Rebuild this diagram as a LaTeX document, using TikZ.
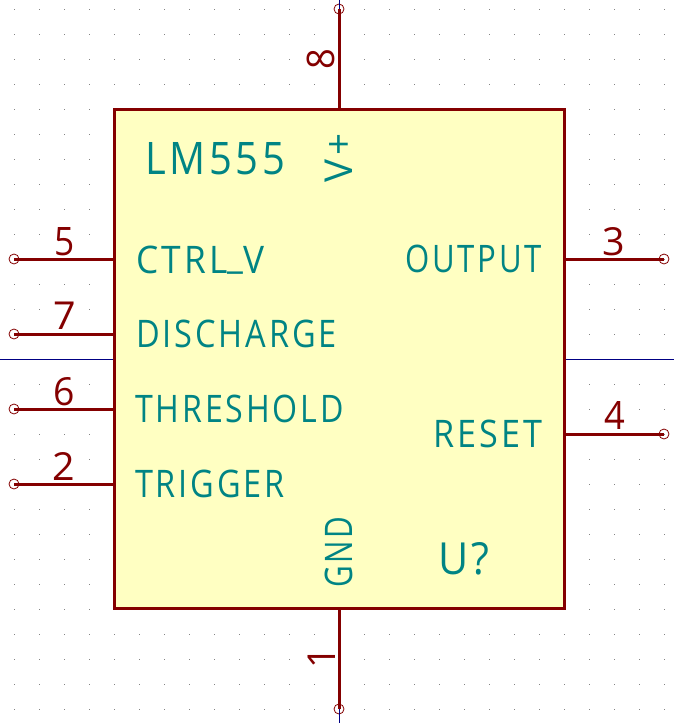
\documentclass[tikz,border=0pt]{standalone}
\usepackage{graphicx}
\usepackage{fontspec}
\setmainfont{Open Sans}[LetterSpace=9]
\definecolor{pinred}{HTML}{840000}
\definecolor{txtteal}{HTML}{008484}
\definecolor{bodyfill}{HTML}{FFFFC2}
\definecolor{axisblue}{HTML}{000084}
\definecolor{gridgrey}{HTML}{848484}
\newcommand{\fitx}[3]{\resizebox{#1pt}{#2pt}{#3\kern-0.9pt}}
\tikzset{
  x=1pt,y=-1pt,
  wire/.style={draw=pinred,line width=3pt},
  pinend/.style={circle,draw=pinred,line width=0.8pt,minimum size=10pt,inner sep=0pt,outer sep=0pt},
  chipbody/.style={draw=pinred,line width=3pt,fill=bodyfill,rectangle,outer sep=0pt,inner sep=0pt},
  axisline/.style={draw=axisblue,line width=0.8pt},
  griddot/.style={fill=gridgrey},
  lbl/.style={inner sep=0pt,outer sep=0pt,text=txtteal,anchor=base west},
  num/.style={inner sep=0pt,outer sep=0pt,text=pinred,anchor=base west},
}
\begin{document}
\begin{tikzpicture}
\useasboundingbox (0,0) rectangle (674,723);
\fill[white] (0,0) rectangle (674,723);
% grid
\foreach \i in {0,...,26}{\foreach \j in {0,...,28}{
  \fill[griddot] ({14+25*\i-0.5},{9+25*\j-0.5}) rectangle ++(1,1);
}}
% the grid is left out under the pin numbers
\foreach \hx/\hy in {64/234,64/309,64/384,64/459,614/234,614/409,314/59,314/659}{
  \fill[white] (\hx-1,\hy-1) rectangle ++(2,2);
}
% axes
\coordinate (axL) at (0,359); \coordinate (axLe) at (114,359);
\coordinate (axR) at (564,359); \coordinate (axRe) at (674,359);
\draw[axisline] (axL) -- (axLe);
\draw[axisline] (axR) -- (axRe);
\coordinate (axT) at (339,0); \coordinate (axB) at (339,723);
% pin ends
\node[pinend] (p8) at (339,9) {};
\node[pinend] (p1) at (339,709) {};
\node[pinend] (p5) at (14,259) {};
\node[pinend] (p7) at (14,334) {};
\node[pinend] (p6) at (14,409) {};
\node[pinend] (p2) at (14,484) {};
\node[pinend] (p3) at (664,259) {};
\node[pinend] (p4) at (664,434) {};
\draw[axisline] (axT) -- (p8.center);
\draw[axisline] (axB) -- (p1.center);
% body
\node[chipbody,minimum width=450pt,minimum height=499pt,anchor=north west] (u) at (114.3,109) {};
% pins
\coordinate (b8) at (339,109); \coordinate (b1) at (339,608);
\coordinate (b5) at (114,259); \coordinate (b7) at (114,334);
\coordinate (b6) at (114,409); \coordinate (b2) at (114,484);
\coordinate (b3) at (564,259); \coordinate (b4) at (564,434);
\foreach \a/\b in {p8/b8,p1/b1,p5/b5,p7/b7,p6/b6,p2/b2,p3/b3,p4/b4}{\draw[wire] (\a.center) -- (\b);}
% labels
\node[lbl] (tref) at (145.5,174) {\fitx{136}{32}{LM555}};
\node[lbl,rotate=90] (tvp) at (352,182) {\fitx{45}{27.5}{V+}};
\node[lbl] (tctrl) at (136,273) {\fitx{125}{27.5}{CTRL\raisebox{1.2pt}{\_}V}};
\node[lbl] (tdis) at (136,347.5) {\fitx{198}{27.5}{DISCHARGE}};
\node[lbl] (tthr) at (135,422.5) {\fitx{206}{27.5}{THRESHOLD}};
\node[lbl] (ttri) at (135,497.5) {\fitx{147}{27.5}{TRIGGER}};
\node[lbl] (tout) at (405,272.5) {\fitx{134}{27.5}{OUTPUT}};
\node[lbl] (trst) at (433,447.5) {\fitx{106}{27.5}{RESET}};
\node[lbl] (tuq) at (438,574.5) {\fitx{48}{32}{U?}};
\node[lbl,rotate=90] (tgnd) at (352,587.5) {\fitx{68.5}{27.5}{GND}};
% pin numbers
\node[num] (n5) at (54.5,255) {\fitx{17}{28}{5}};
\node[num] (n7) at (53,329.5) {\fitx{19}{27.5}{7}};
\node[num] (n6) at (53,405) {\fitx{18}{28}{6}};
\node[num] (n2) at (52.5,480) {\fitx{19}{28}{2}};
\node[num] (n3) at (602.5,255) {\fitx{19}{28}{3}};
\node[num] (n4) at (604.5,429.5) {\fitx{17.5}{28}{4}};
\node[num,rotate=90] (n8) at (334.5,69) {\fitx{17.5}{27.5}{8}};
\node[num,rotate=90] (n1) at (335,668.5) {\fitx{18}{27.5}{1}};
\end{tikzpicture}
\end{document}
